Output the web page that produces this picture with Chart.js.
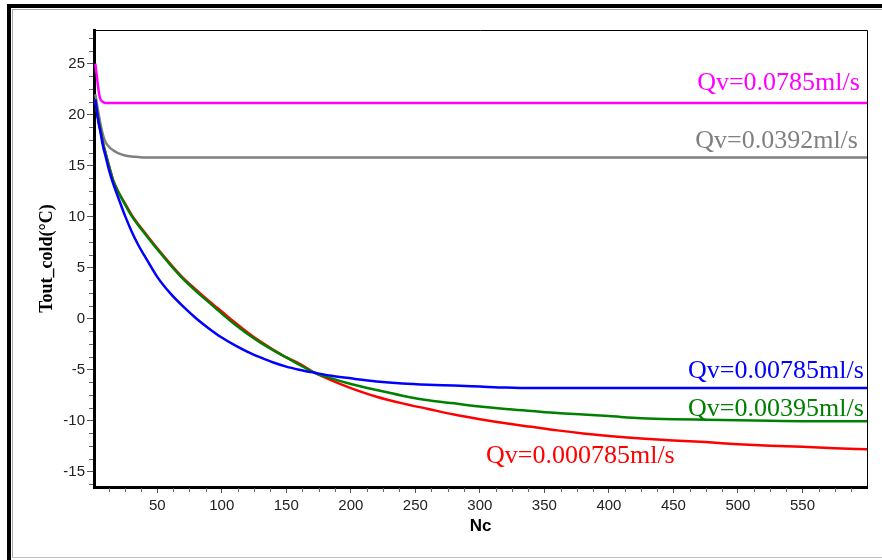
<!DOCTYPE html>
<html>
<head>
<meta charset="utf-8">
<script src="https://cdn.jsdelivr.net/npm/chart.js@4.4.1/dist/chart.umd.min.js"></script>
<style>
    body { margin: 0; background: #fff; }
    .wrap { position: relative; width: 882px; height: 560px; overflow: hidden; background: #fff; }
    .wrap canvas { position: absolute; left: 0; top: 0; }
    .edge { position: absolute; }
</style>
</head>
<body>
<div class="wrap">
    <canvas id="coldChart" width="882" height="560"></canvas>
    <!-- window frame -->
    <div class="edge" style="left:7px;top:4px;width:875px;height:4px;background:#000"></div>
    <div class="edge" style="left:7px;top:4px;width:4px;height:556px;background:#000"></div>
    <div class="edge" style="left:12px;top:9px;width:870px;height:1px;background:#a8a8a8"></div>
    <div class="edge" style="left:12px;top:9px;width:1px;height:549px;background:#a8a8a8"></div>
    <div class="edge" style="left:12px;top:557px;width:870px;height:1px;background:#c0c0c0"></div>
</div>
<script>
// Nc sample points shared by every curve
const ncValues = [2, 3, 4, 5, 6, 8, 10, 13, 16, 20,
    25, 30, 35, 40, 50, 60, 70, 80, 90, 100,
    110, 120, 130, 140, 150, 160, 172, 185, 200, 220,
    240, 260, 280, 300, 320, 340, 360, 380, 400, 425,
    450, 475, 500, 525, 550, 575, 600];

// Tout_cold (°C) for each flow rate
const qv0785 = [25.0, 24.0, 22.9, 22.0, 21.5, 21.25, 21.15, 21.15, 21.15, 21.15,
    21.15, 21.15, 21.15, 21.15, 21.15, 21.15, 21.15, 21.15, 21.15, 21.15,
    21.15, 21.15, 21.15, 21.15, 21.15, 21.15, 21.15, 21.15, 21.15, 21.15,
    21.15, 21.15, 21.15, 21.15, 21.15, 21.15, 21.15, 21.15, 21.15, 21.15,
    21.15, 21.15, 21.15, 21.15, 21.15, 21.15, 21.15];
const qv0392 = [22.0, 21.3, 20.5, 19.8, 19.1, 18.0, 17.3, 16.8, 16.5, 16.2,
    16.0, 15.9, 15.85, 15.8, 15.8, 15.8, 15.8, 15.8, 15.8, 15.8,
    15.8, 15.8, 15.8, 15.8, 15.8, 15.8, 15.8, 15.8, 15.8, 15.8,
    15.8, 15.8, 15.8, 15.8, 15.8, 15.8, 15.8, 15.8, 15.8, 15.8,
    15.8, 15.8, 15.8, 15.8, 15.8, 15.8, 15.8];
const qv00785 = [21.5, 20.5, 19.6, 18.9, 18.3, 16.9, 15.9, 14.4, 13.2, 11.8,
    10.1, 8.6, 7.3, 6.2, 4.1, 2.5, 1.2, 0.05, -0.95, -1.85,
    -2.6, -3.25, -3.8, -4.3, -4.7, -5.0, -5.3, -5.6, -5.85, -6.15,
    -6.35, -6.47, -6.55, -6.65, -6.75, -6.8, -6.8, -6.8, -6.8, -6.8,
    -6.8, -6.8, -6.8, -6.8, -6.8, -6.8, -6.8];
const qv00395 = [21.5, 20.6, 19.8, 19.1, 18.5, 17.2, 16.2, 14.8, 13.5, 12.4,
    11.2, 10.1, 9.2, 8.4, 6.8, 5.3, 3.9, 2.7, 1.6, 0.5,
    -0.55, -1.5, -2.35, -3.1, -3.8, -4.5, -5.3, -5.85, -6.4, -7.0,
    -7.55, -8.0, -8.3, -8.6, -8.85, -9.05, -9.25, -9.4, -9.55, -9.75,
    -9.85, -9.9, -9.95, -10.0, -10.05, -10.06, -10.06];
const qv000785 = [21.5, 20.6, 19.8, 19.1, 18.5, 17.2, 16.2, 14.8, 13.5, 12.4,
    11.3, 10.2, 9.3, 8.5, 6.9, 5.4, 4.0, 2.85, 1.75, 0.7,
    -0.35, -1.35, -2.25, -3.05, -3.8, -4.4, -5.3, -6.05, -6.8, -7.65,
    -8.3, -8.85, -9.4, -9.85, -10.25, -10.6, -10.95, -11.25, -11.5, -11.75,
    -11.95, -12.1, -12.3, -12.45, -12.55, -12.7, -12.8];

// axis ticks
const xTickValues = [50, 100, 150, 200, 250, 300, 350, 400, 450, 500, 550];
const yTickValues = [-15, -10, -5, 0, 5, 10, 15, 20, 25];

// curve labels: text, right end (Nc) and baseline (°C)
const labelTexts = ['Qv=0.0785ml/s', 'Qv=0.0392ml/s', 'Qv=0.00785ml/s', 'Qv=0.00395ml/s', 'Qv=0.000785ml/s'];
const labelNc = [594.5, 593, 597.5, 597.5, 451];
const labelTemp = [22.45, 16.75, -5.8, -9.5, -14.1];
const labelColors = ['#ff00ff', '#808080', '#0000ff', '#008000', '#ff0000'];

const X_MINOR = 12.5;
const Y_MINOR = 1.25;

function toPoints(values) {
    return values.map((v, i) => ({ x: ncValues[i], y: v }));
}

function lineSet(label, values, color) {
    return {
        label: label,
        data: toPoints(values),
        borderColor: color,
        backgroundColor: color,
        borderWidth: 2.5,
        pointRadius: 0,
        cubicInterpolationMode: 'monotone',
        fill: false
    };
}

/**
 * Plot frame, minor ticks and the curve labels
 */
const decorPlugin = {
    id: 'decor',
    afterDraw(chart) {
        const { ctx, chartArea: area, scales: { x, y } } = chart;
        ctx.save();

        // thin top / right edge of the plot box
        ctx.strokeStyle = '#000';
        ctx.lineWidth = 1;
        ctx.beginPath();
        ctx.moveTo(area.left, Math.round(area.top) + 0.5);
        ctx.lineTo(Math.round(area.right) + 0.5, Math.round(area.top) + 0.5);
        ctx.lineTo(Math.round(area.right) + 0.5, area.bottom);
        ctx.stroke();

        // minor ticks
        ctx.strokeStyle = '#666';
        ctx.beginPath();
        for (let v = X_MINOR; v < x.max; v += X_MINOR) {
            if (v % 50 === 0) continue;
            const px = Math.round(x.getPixelForValue(v)) + 0.5;
            ctx.moveTo(px, area.bottom + 1);
            ctx.lineTo(px, area.bottom + 5);
        }
        for (let v = Math.ceil(y.min / Y_MINOR) * Y_MINOR; v < y.max; v += Y_MINOR) {
            if (v % 5 === 0) continue;
            const py = Math.round(y.getPixelForValue(v)) + 0.5;
            ctx.moveTo(area.left - 1, py);
            ctx.lineTo(area.left - 5, py);
        }
        ctx.stroke();

        // curve labels
        ctx.font = '26px "Liberation Serif", "Times New Roman", serif';
        ctx.textAlign = 'right';
        ctx.textBaseline = 'alphabetic';
        labelTexts.forEach((t, i) => {
            ctx.fillStyle = labelColors[i];
            ctx.fillText(t, x.getPixelForValue(labelNc[i]), y.getPixelForValue(labelTemp[i]));
        });
        ctx.restore();
    }
};

const tickFont = { family: '"Liberation Sans", Arial, sans-serif', size: 15 };

const ctx = document.getElementById('coldChart').getContext('2d');
new Chart(ctx, {
    type: 'line',
    data: {
        datasets: [
            lineSet('Qv=0.00785ml/s', qv00785, '#0000ff'),
            lineSet('Qv=0.00395ml/s', qv00395, '#008000'),
            lineSet('Qv=0.000785ml/s', qv000785, '#ff0000'),
            lineSet('Qv=0.0392ml/s', qv0392, '#808080'),
            lineSet('Qv=0.0785ml/s', qv0785, '#ff00ff')
        ]
    },
    options: {
        responsive: false,
        animation: false,
        devicePixelRatio: 1,
        layout: { padding: { left: 33, top: 30, right: 15, bottom: 0 } },
        plugins: {
            legend: { display: false },
            tooltip: { enabled: false }
        },
        scales: {
            x: {
                type: 'linear',
                min: 1,
                max: 600,
                afterBuildTicks: (scale) => { scale.ticks = xTickValues.map(v => ({ value: v })); },
                afterFit: (scale) => { scale.height = 73; },
                grid: { drawOnChartArea: false, drawTicks: true, tickLength: 6, tickColor: '#555', tickWidth: 1 },
                border: { display: true, color: '#000', width: 3 },
                ticks: { font: tickFont, color: '#222', padding: 4, maxRotation: 0, autoSkip: false },
                title: {
                    display: true,
                    text: 'Nc',
                    color: '#000',
                    font: { family: '"Liberation Sans", Arial, sans-serif', size: 17, weight: 'bold' },
                    padding: { top: 2, bottom: 23 }
                }
            },
            y: {
                type: 'linear',
                min: -16.5,
                max: 28.3,
                afterBuildTicks: (scale) => { scale.ticks = yTickValues.map(v => ({ value: v })); },
                afterFit: (scale) => { scale.width = 61; },
                grid: { drawOnChartArea: false, drawTicks: true, tickLength: 7, tickColor: '#555', tickWidth: 1 },
                border: { display: true, color: '#000', width: 3 },
                ticks: { font: tickFont, color: '#222', padding: 2, autoSkip: false },
                title: {
                    display: true,
                    text: 'Tout_cold(°C)',
                    color: '#000',
                    font: { family: '"Liberation Serif", "Times New Roman", serif', size: 18, weight: 'bold' },
                    padding: { top: 4, bottom: 4 }
                }
            }
        }
    },
    plugins: [decorPlugin]
});
</script>
</body>
</html>
